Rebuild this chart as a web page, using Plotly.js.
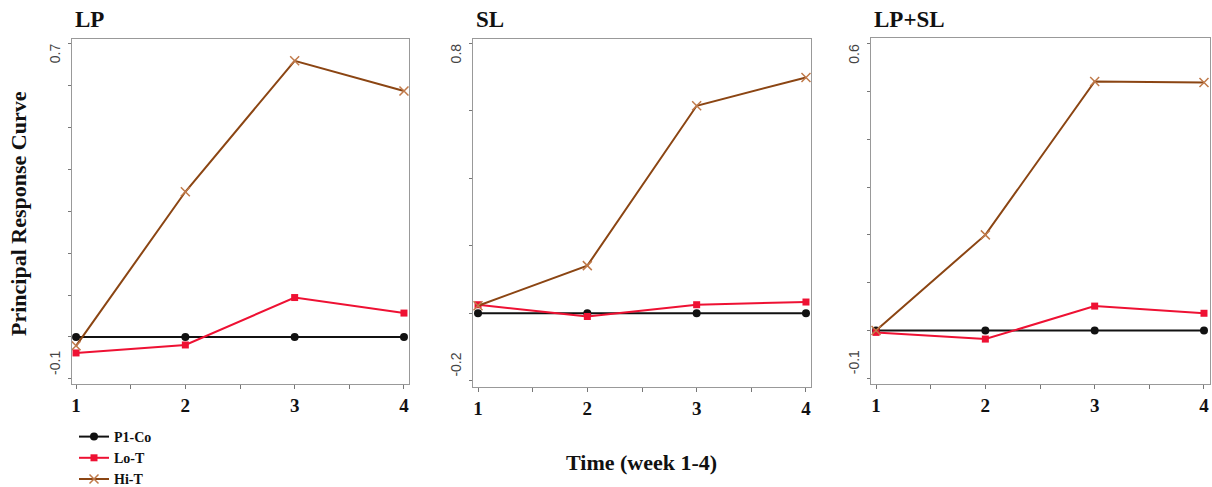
<!DOCTYPE html>
<html>
<head>
<meta charset="utf-8">
<script src="https://cdn.plot.ly/plotly-3.0.1.min.js"></script>
<style>html,body{margin:0;padding:0;background:#fff;}#chart{width:1212px;height:487px;}</style>
</head>
<body>
<div id="chart"></div>
<script>
// ---- data ----
var weeks = [1, 2, 3, 4];
var seriesNames = ["P1-Co", "Lo-T", "Hi-T"];
var panelTitles = ["LP", "SL", "LP+SL"];

var lpP1Co = [0, 0, 0, 0];
var lpLoT  = [-0.038, -0.019, 0.094, 0.057];
var lpHiT  = [-0.021, 0.346, 0.658, 0.586];

var slP1Co = [0, 0, 0, 0];
var slLoT  = [0.025, -0.010, 0.025, 0.033];
var slHiT  = [0.022, 0.141, 0.615, 0.699];

var lpslP1Co = [0, 0, 0, 0];
var lpslLoT  = [-0.004, -0.018, 0.051, 0.036];
var lpslHiT  = [0.000, 0.200, 0.521, 0.519];

var xTickVals = [1, 1.5, 2, 2.5, 3, 3.5, 4];
var xTickText = ["1", "", "2", "", "3", "", "4"];
var lpYTicks   = [-0.1, 0, 0.1, 0.2, 0.3, 0.4, 0.5, 0.6, 0.7];
var slYTicks   = [-0.2, 0, 0.2, 0.4, 0.6, 0.8];
var lpslYTicks = [-0.1, 0, 0.1, 0.2, 0.3, 0.4, 0.5, 0.6];

// ---- styles ----
var colors = ["#111111", "#ee1133", "#8b4513"];
var markerColors = ["#111111", "#ee1133", "#c07a4a"];
var symbols = ["circle", "square", "x-thin"];
var msizes = [8, 7, 9];
var serif = "Liberation Serif, Times New Roman, serif";
var sans = "Liberation Sans, Arial, sans-serif";

var panels = [
  {title: panelTitles[0], data: [lpP1Co, lpLoT, lpHiT], yt: lpYTicks, yr: [-0.112, 0.71], xr: [0.963, 4.046], xd: [72, 409], yd: [39, 384]},
  {title: panelTitles[1], data: [slP1Co, slLoT, slHiT], yt: slYTicks, yr: [-0.219, 0.813], xr: [0.954, 4.046], xd: [473, 811], yd: [39, 387]},
  {title: panelTitles[2], data: [lpslP1Co, lpslLoT, lpslHiT], yt: lpslYTicks, yr: [-0.112, 0.612], xr: [0.954, 4.055], xd: [871, 1210], yd: [38, 384]}
];

var W = 1212, H = 487;
var traces = [];
var layout = {
  width: W, height: H,
  margin: {l: 0, r: 0, t: 0, b: 0, pad: 0, autoexpand: false},
  paper_bgcolor: "#ffffff", plot_bgcolor: "#ffffff",
  showlegend: true,
  legend: {
    x: 74 / W, y: 1 - 421 / H, xanchor: "left", yanchor: "top",
    font: {family: serif, size: 14, color: "#111", weight: "bold"},
    bgcolor: "rgba(0,0,0,0)", tracegroupgap: 0, itemwidth: 30
  },
  annotations: [], shapes: []
};

panels.forEach(function (p, i) {
  var sfx = i === 0 ? "" : String(i + 1);
  for (var s = 0; s < 3; s++) {
    traces.push({
      x: weeks, y: p.data[s], type: "scatter", mode: "lines+markers",
      name: seriesNames[s], showlegend: i === 0,
      xaxis: "x" + sfx, yaxis: "y" + sfx,
      line: {color: colors[s], width: 2},
      marker: {color: markerColors[s], symbol: symbols[s], size: msizes[s],
               line: {color: markerColors[s], width: s === 2 ? 1.5 : 0}}
    });
  }
  layout["xaxis" + sfx] = {
    domain: [p.xd[0] / W, p.xd[1] / W], range: p.xr, anchor: "y" + sfx,
    tickmode: "array", tickvals: xTickVals, ticktext: xTickText,
    ticks: "outside", ticklen: 4, tickcolor: "#777", tickwidth: 1,
    tickfont: {family: serif, size: 19, color: "#111", weight: "bold"},
    showline: true, linecolor: "#999", linewidth: 1, mirror: true,
    showgrid: false, zeroline: false, fixedrange: true, automargin: false
  };
  layout["yaxis" + sfx] = {
    domain: [1 - p.yd[1] / H, 1 - p.yd[0] / H], range: p.yr, anchor: "x" + sfx,
    tickmode: "array", tickvals: p.yt, showticklabels: false,
    ticks: "outside", ticklen: 3, tickcolor: "#777", tickwidth: 1,
    showline: true, linecolor: "#999", linewidth: 1, mirror: true,
    showgrid: false, zeroline: false, fixedrange: true, automargin: false
  };
  var lo = p.yt[0], hi = p.yt[p.yt.length - 1];
  layout.annotations.push({
    text: String(hi), xref: "paper", yref: "y" + sfx,
    x: (p.xd[0] - 7) / W, y: hi, xanchor: "right", yanchor: "top", yshift: 2,
    textangle: -90, showarrow: false, font: {family: sans, size: 14, color: "#444"}
  });
  layout.annotations.push({
    text: String(lo), xref: "paper", yref: "y" + sfx,
    x: (p.xd[0] - 7) / W, y: lo, xanchor: "right", yanchor: "bottom", yshift: 2,
    textangle: -90, showarrow: false, font: {family: sans, size: 14, color: "#444"}
  });
  layout.annotations.push({
    text: "<b>" + p.title + "</b>", xref: "paper", yref: "paper",
    x: (p.xd[0] + 1) / W, y: 1 - 20 / H, xanchor: "left", yanchor: "middle",
    showarrow: false, font: {family: serif, size: 23, color: "#111"}
  });
});

layout.annotations.push({
  text: "<b>Principal Response Curve</b>", xref: "paper", yref: "paper",
  x: 19 / W, y: 1 - 214 / H, xanchor: "center", yanchor: "middle", textangle: -90,
  showarrow: false, font: {family: serif, size: 22, color: "#111"}
});
layout.annotations.push({
  text: "<b>Time (week 1-4)</b>", xref: "paper", yref: "paper",
  x: 641 / W, y: 1 - 462 / H, xanchor: "center", yanchor: "middle",
  showarrow: false, font: {family: serif, size: 22, color: "#111"}
});

Plotly.newPlot("chart", traces, layout, {displayModeBar: false, staticPlot: true});
</script>
</body>
</html>
